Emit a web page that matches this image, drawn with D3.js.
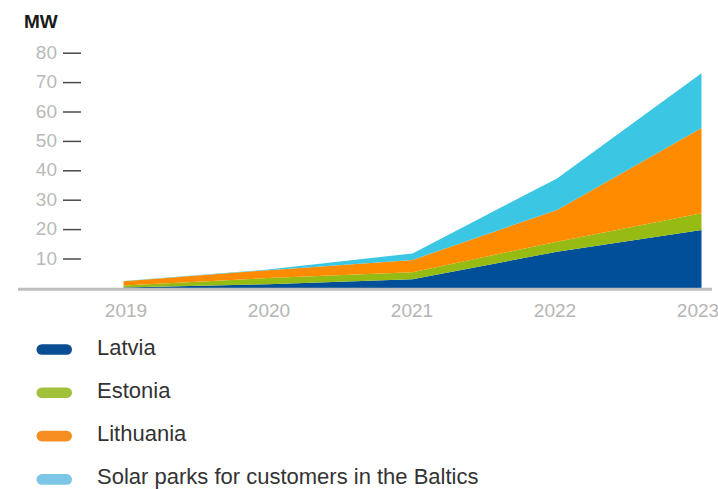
<!DOCTYPE html>
<html>
<head>
<meta charset="utf-8">
<script src="https://cdn.jsdelivr.net/npm/d3@7"></script>
<style>
  html, body { margin: 0; padding: 0; background: #fff; }
  svg { display: block; font-family: "Liberation Sans", Arial, Helvetica, sans-serif; }
</style>
</head>
<body>
<svg id="chart" width="718" height="489"></svg>
<script>
// Installed solar capacity, MW per year and region
const years = ["2019", "2020", "2021", "2022", "2023"];
const latvia    = [0.3, 1.4, 3.1, 12.5, 19.9];
const estonia   = [0.7, 2.1, 2.4, 3.4, 5.7];
const lithuania = [1.4, 2.7, 4.2, 10.8, 29.0];
const solarParks = [0.1, 0.2, 2.2, 10.7, 18.6];

const seriesNames = ["Latvia", "Estonia", "Lithuania", "Solar parks for customers in the Baltics"];
const seriesValues = [latvia, estonia, lithuania, solarParks];
const areaColors = ["#004f98", "#96bb12", "#ff8c00", "#3bc6e4"];
const legendColors = ["#0a4e94", "#a2c13a", "#f68e22", "#7cc6e6"];
const yTicks = [10, 20, 30, 40, 50, 60, 70, 80];
const unitLabel = "MW";

const svg = d3.select("#chart");

const x = d3.scalePoint().domain(years).range([123.5, 701.5]);
const xLabel = d3.scalePoint().domain(years).range([126, 698]);
const y = d3.scaleLinear().domain([0, 80]).range([288.4, 53.2]);

// rows for the stack generator
const rows = years.map((yr, i) => {
  const r = { year: yr };
  seriesNames.forEach((n, k) => { r[n] = seriesValues[k][i]; });
  return r;
});
const stacked = d3.stack().keys(seriesNames)(rows);

const area = d3.area()
  .x(d => x(d.data.year))
  .y0(d => y(d[0]))
  .y1(d => y(d[1]))
  .curve(d3.curveLinear);

svg.append("g").selectAll("path")
  .data(stacked)
  .join("path")
  .attr("d", area)
  .attr("fill", (d, i) => areaColors[i]);

// baseline
svg.append("line")
  .attr("x1", 18).attr("x2", 712)
  .attr("y1", y(0) + 0.8).attr("y2", y(0) + 0.8)
  .attr("stroke", "#bfbfbf").attr("stroke-width", 3);

// y ticks
const yAxis = svg.append("g");
yAxis.selectAll("line")
  .data(yTicks)
  .join("line")
  .attr("x1", 63).attr("x2", 81)
  .attr("y1", d => y(d)).attr("y2", d => y(d))
  .attr("stroke", "#4a4a4a").attr("stroke-width", 1.5);
yAxis.selectAll("text")
  .data(yTicks)
  .join("text")
  .attr("x", 57)
  .attr("y", d => y(d) + 5.5)
  .attr("text-anchor", "end")
  .attr("font-size", 19)
  .attr("fill", "#b9b9b9")
  .text(d => d);

svg.append("text")
  .attr("x", 24).attr("y", 28)
  .attr("font-size", 19)
  .attr("font-weight", "bold")
  .attr("fill", "#1a1a1a")
  .text(unitLabel);

// year labels
svg.append("g").selectAll("text")
  .data(years)
  .join("text")
  .attr("x", d => xLabel(d))
  .attr("y", 316.5)
  .attr("text-anchor", "middle")
  .attr("font-size", 19)
  .attr("fill", "#b5b5b5")
  .text(d => d);

// legend
const legend = svg.append("g").selectAll("g")
  .data(seriesNames)
  .join("g")
  .attr("transform", (d, i) => `translate(0, ${349.5 + i * 43.3})`);
legend.append("rect")
  .attr("x", 36.5).attr("y", -5.3)
  .attr("width", 35.5).attr("height", 10.6)
  .attr("rx", 5.3).attr("ry", 5.3)
  .attr("fill", (d, i) => legendColors[i]);
legend.append("text")
  .attr("x", 97).attr("y", 5)
  .attr("font-size", 22)
  .attr("fill", "#333")
  .text(d => d);
</script>
</body>
</html>
